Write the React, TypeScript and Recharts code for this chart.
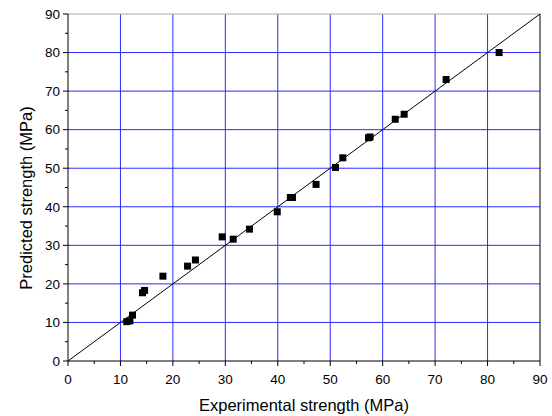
import React from 'react'
import {
  ReferenceLine,
  Scatter,
  ScatterChart,
  XAxis,
  YAxis,
} from 'recharts'

// measured (x) vs predicted (y), MPa
const experimental = [
  11.2, 11.8, 12.3, 14.2, 14.6, 18.1, 22.8, 24.3, 29.4, 31.5, 34.6, 39.9,
  42.4, 42.8, 47.3, 51.0, 52.4, 57.3, 57.6, 62.4, 64.1, 72.1, 82.2,
]
const predicted = [
  10.2, 10.4, 11.9, 17.7, 18.3, 22.0, 24.6, 26.2, 32.2, 31.6, 34.2, 38.7,
  42.4, 42.4, 45.8, 50.2, 52.7, 57.9, 58.1, 62.7, 64.0, 73.0, 80.0,
]
const axisTicks = [0, 5, 10, 15, 20, 25, 30, 35, 40, 45, 50, 55, 60, 65, 70, 75, 80, 85, 90]
const gridValues = [10, 20, 30, 40, 50, 60, 70, 80]

const points = experimental.map((x, i) => ({ x, y: predicted[i] }))

const FONT = '"Liberation Sans", Arial, sans-serif'

function XTick({ x, y, payload }: any) {
  const v = payload.value
  if (v % 10 !== 0) return <line x1={x} y1={y} x2={x} y2={y + 3} stroke="#000" />
  return (
    <g>
      <line x1={x} y1={y} x2={x} y2={y + 5} stroke="#000" />
      <text x={x} y={y + 23} textAnchor="middle" fontSize={13.5} fontFamily={FONT} fill="#000">
        {v}
      </text>
    </g>
  )
}

function YTick({ x, y, payload }: any) {
  const v = payload.value
  if (v % 10 !== 0) return <line x1={x} y1={y} x2={x - 3} y2={y} stroke="#000" />
  return (
    <g>
      <line x1={x} y1={y} x2={x - 5} y2={y} stroke="#000" />
      <text x={x - 8} y={y + 4.8} textAnchor="end" fontSize={13.5} fontFamily={FONT} fill="#000">
        {v}
      </text>
    </g>
  )
}

function SquareDot({ cx, cy }: any) {
  return <rect x={cx - 3.5} y={cy - 3.5} width={7} height={7} fill="#000" />
}

function XTitle({ viewBox }: any) {
  return (
    <text
      x={viewBox.x + viewBox.width / 2}
      y={viewBox.y + 49.5}
      textAnchor="middle"
      fontSize={16.5}
      fontFamily={FONT}
      fill="#000"
    >
      Experimental strength (MPa)
    </text>
  )
}

function YTitle({ viewBox }: any) {
  const cx = viewBox.x + 31.5
  const cy = viewBox.y + viewBox.height / 2 + 10.5
  return (
    <text
      x={cx}
      y={cy}
      transform={`rotate(-90 ${cx} ${cy})`}
      textAnchor="middle"
      fontSize={16.5}
      fontFamily={FONT}
      fill="#000"
    >
      Predicted strength (MPa)
    </text>
  )
}

export default function App() {
  return (
    <div style={{ position: 'absolute', left: 0, top: 0, background: '#fff' }}>
      <ScatterChart width={552} height={416} margin={{ top: 14, right: 12, left: 0, bottom: 0 }}>
        <XAxis
          type="number"
          dataKey="x"
          domain={[0, 90]}
          ticks={axisTicks}
          interval={0}
          height={55}
          tickSize={0}
          tickMargin={0}
          tickLine={false}
          tick={<XTick />}
          axisLine={{ stroke: '#000' }}
          allowDataOverflow
          label={{ content: <XTitle /> }}
        />
        <YAxis
          type="number"
          dataKey="y"
          domain={[0, 90]}
          ticks={axisTicks}
          interval={0}
          width={68}
          tickSize={0}
          tickMargin={0}
          tickLine={false}
          tick={<YTick />}
          axisLine={{ stroke: '#000' }}
          allowDataOverflow
          label={{ content: <YTitle /> }}
        />
        {gridValues.map((v) => (
          <ReferenceLine key={'gx' + v} x={v} stroke="#2b2bff" strokeWidth={1} />
        ))}
        {gridValues.map((v) => (
          <ReferenceLine key={'gy' + v} y={v} stroke="#2b2bff" strokeWidth={1} />
        ))}
        <ReferenceLine y={90} stroke="#aaaaaa" />
        <ReferenceLine x={90} stroke="#000" />
        <ReferenceLine
          segment={[
            { x: 0, y: 0 },
            { x: 90, y: 90 },
          ]}
          stroke="#000"
          strokeWidth={1}
        />
        <Scatter data={points} shape={<SquareDot />} isAnimationActive={false} />
      </ScatterChart>
    </div>
  )
}
